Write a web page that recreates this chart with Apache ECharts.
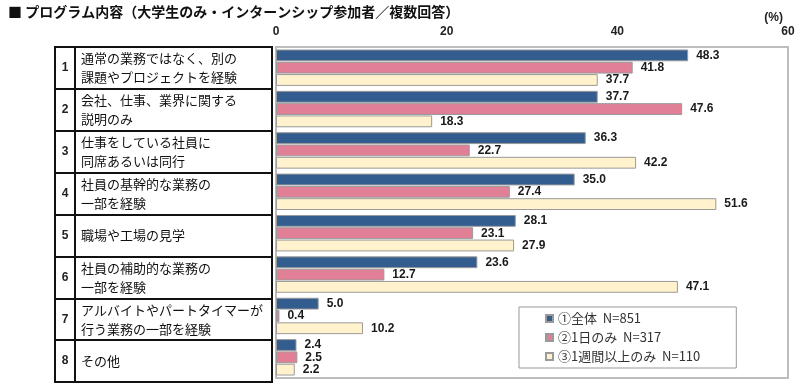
<!DOCTYPE html>
<html><head><meta charset="utf-8">
<script src="https://cdn.jsdelivr.net/npm/echarts@6/dist/echarts.min.js"></script>
<style>html,body{margin:0;padding:0;background:#fff}#c{width:800px;height:385px}</style>
</head><body><div id="c"></div>
<script>
const categoryNumbers = ['1','2','3','4','5','6','7','8'];
const categories = [
  '通常の業務ではなく、別の\n課題やプロジェクトを経験',
  '会社、仕事、業界に関する\n説明のみ',
  '仕事をしている社員に\n同席あるいは同行',
  '社員の基幹的な業務の\n一部を経験',
  '職場や工場の見学',
  '社員の補助的な業務の\n一部を経験',
  'アルバイトやパートタイマーが\n行う業務の一部を経験',
  'その他'
];
const seriesNames = ['①全体  N=851', '②1日のみ  N=317', '③1週間以上のみ  N=110'];
const allValues   = [48.3, 37.7, 36.3, 35.0, 28.1, 23.6, 5.0, 2.4];
const oneDay      = [41.8, 47.6, 22.7, 27.4, 23.1, 12.7, 0.4, 2.5];
const oneWeekPlus = [37.7, 18.3, 42.2, 51.6, 27.9, 47.1, 10.2, 2.2];
const xTicks = {min: 0, max: 60, interval: 20};

const colors = ['#335C8F', '#E17F97', '#FFF2CC'];
const jp = '"Noto Sans CJK JP", sans-serif';
const num = '"Liberation Sans Narrow", "Liberation Sans", Arial, sans-serif';

const chart = echarts.init(document.getElementById('c'));
const mk = (name, data, i) => ({
  name, type: 'bar', data, xAxisIndex: 0, yAxisIndex: 0,
  barCategoryGap: '12%', barGap: '4%',
  itemStyle: {color: colors[i], borderColor: '#9a9a9a', borderWidth: 1},
  label: {show: true, position: 'right', distance: 8, color: '#1a1a1a',
    fontFamily: num, fontWeight: 'bold', fontSize: 12,
    formatter: p => Number(p.value).toFixed(1)},
  emphasis: {disabled: true}, animation: false
});

chart.setOption({
  animation: false,
  title: [
    {text: '■ プログラム内容（大学生のみ・インターンシップ参加者／複数回答）', left: 3, top: 0,
     textStyle: {fontFamily: jp, fontSize: 14, fontWeight: 'bold', color: '#111'}},
    {text: '(%)', right: 12, top: 7, textStyle: {fontFamily: num, fontSize: 12, fontWeight: 'bold', color: '#222'}}
  ],
  legend: {
    orient: 'vertical', left: 519, top: 307, itemWidth: 7, itemHeight: 7, itemGap: 6,
    icon: 'rect', backgroundColor: '#fff', borderColor: '#999', borderWidth: 1,
    padding: [5, 36, 5, 26],
    textStyle: {fontFamily: jp, fontSize: 13, color: '#333'},
    data: seriesNames
  },
  grid: [
    {left: 276, right: 12, top: 47, bottom: 7, show: true, borderColor: '#bdbdbd', borderWidth: 2, backgroundColor: 'transparent'},
    {left: 55, width: 20, top: 47, bottom: 3, show: true, borderColor: '#111', borderWidth: 2},
    {left: 75, width: 197, top: 47, bottom: 3, show: true, borderColor: '#111', borderWidth: 2}
  ],
  xAxis: [
    {type: 'value', gridIndex: 0, position: 'top', min: xTicks.min, max: xTicks.max, interval: xTicks.interval,
     axisLine: {show: false}, axisTick: {show: false}, splitLine: {show: false},
     axisLabel: {margin: 9, fontFamily: num, fontSize: 12, fontWeight: 'bold', color: '#222'}},
    {type: 'value', gridIndex: 1, show: false, min: 0, max: 1},
    {type: 'value', gridIndex: 2, show: false, min: 0, max: 1}
  ],
  yAxis: [
    {type: 'category', gridIndex: 0, inverse: true, data: categories,
     axisLine: {show: false}, axisTick: {show: false}, axisLabel: {show: false}, splitLine: {show: false}},
    {type: 'category', gridIndex: 1, inverse: true, data: categoryNumbers,
     axisLine: {show: false}, axisTick: {show: false},
     splitLine: {show: true, interval: 0, lineStyle: {color: '#111', width: 2}},
     axisLabel: {inside: true, margin: 10, align: 'center', fontFamily: num, fontSize: 12, fontWeight: 'bold', color: '#222'}},
    {type: 'category', gridIndex: 2, inverse: true, data: categories,
     axisLine: {show: false}, axisTick: {show: false},
     splitLine: {show: true, interval: 0, lineStyle: {color: '#111', width: 2}},
     axisLabel: {inside: true, margin: 6, align: 'left', fontFamily: jp, fontSize: 13, lineHeight: 19, color: '#111'}}
  ],
  series: [
    mk(seriesNames[0], allValues, 0),
    mk(seriesNames[1], oneDay, 1),
    mk(seriesNames[2], oneWeekPlus, 2)
  ]
});
</script></body></html>
